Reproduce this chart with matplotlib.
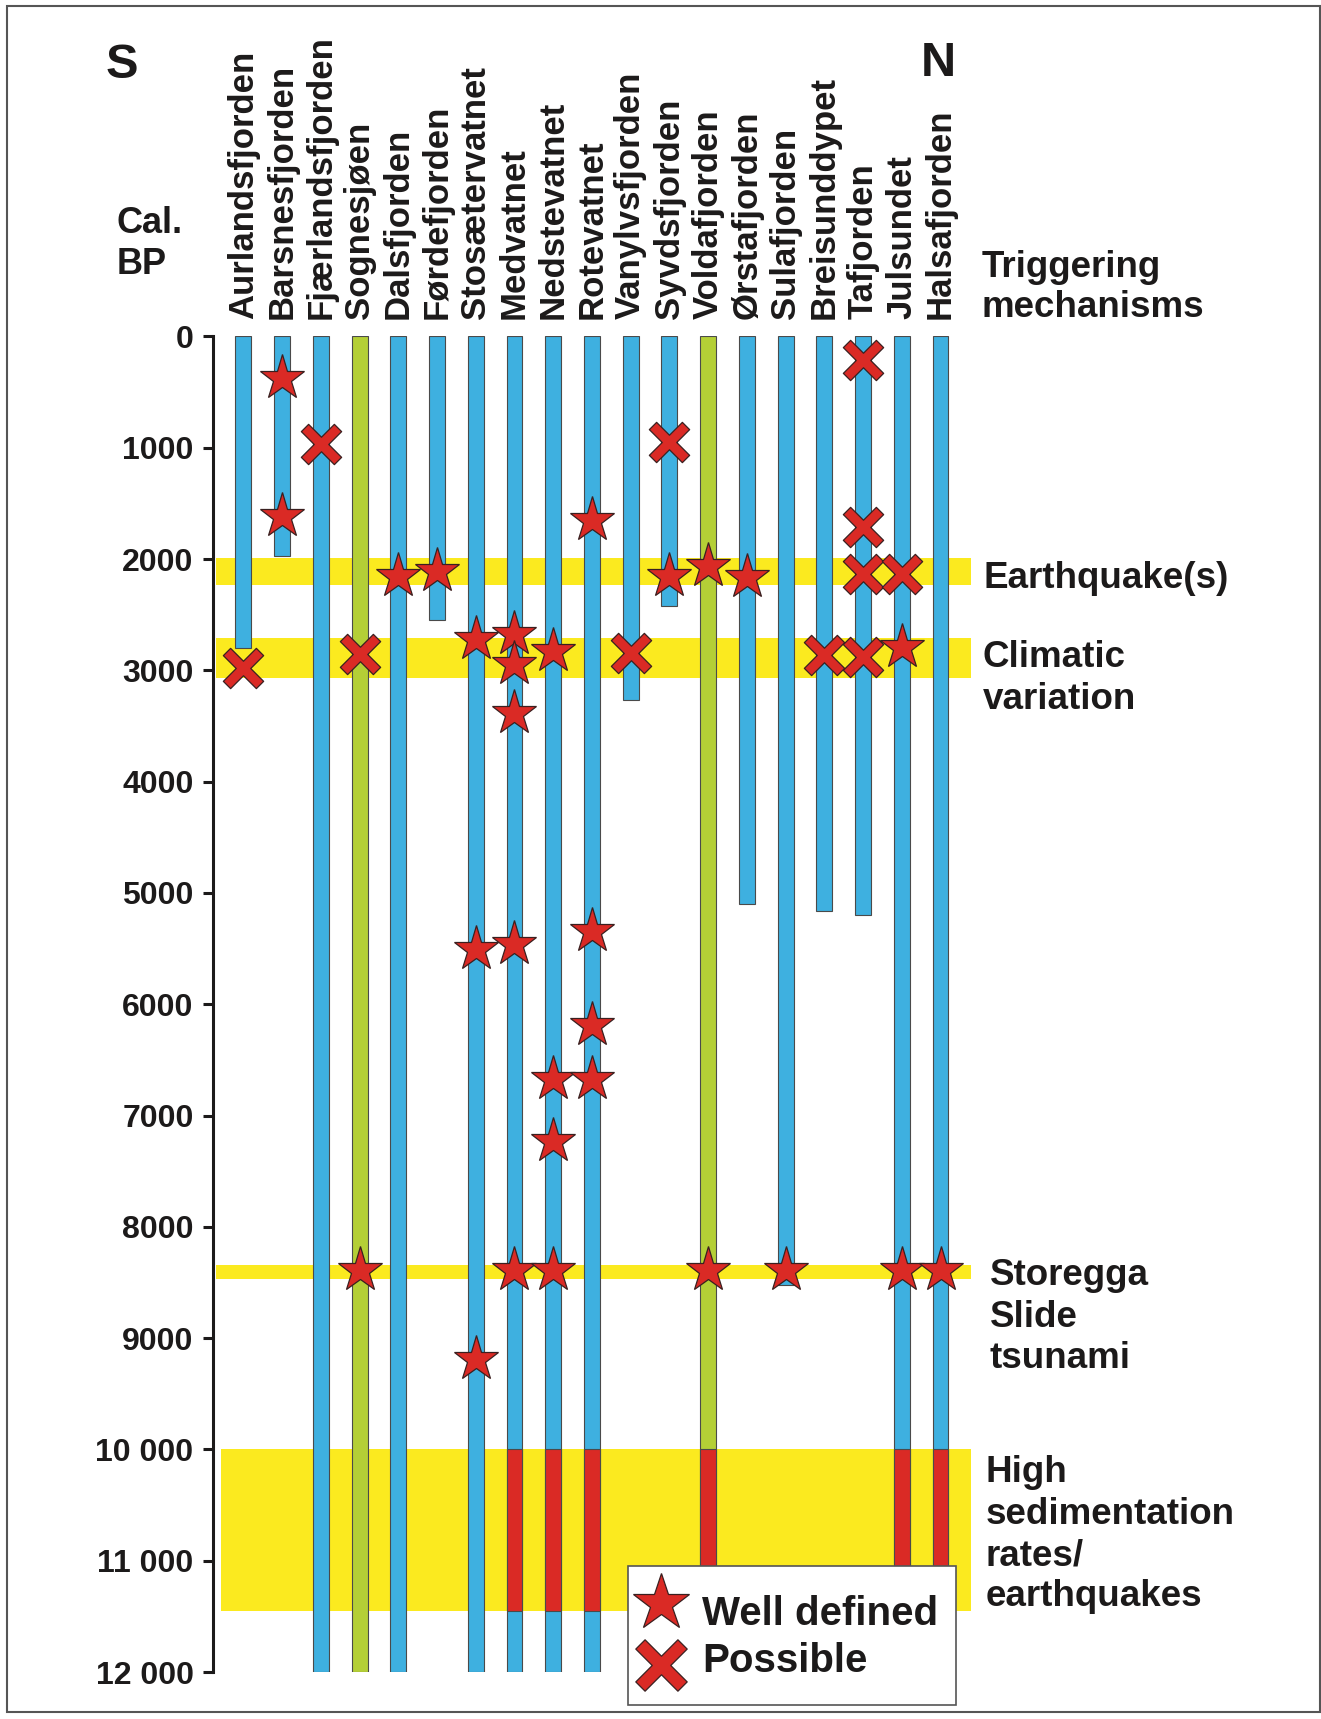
import matplotlib
matplotlib.use("Agg")
import numpy as np
import matplotlib.pyplot as plt
from matplotlib.patches import Rectangle
from matplotlib.path import Path

plt.rcParams['font.family'] = ['Liberation Sans', 'DejaVu Sans']

# sites from south to north
sites = ["Aurlandsfjorden", "Barsnesfjorden", "Fjærlandsfjorden", "Sognesjøen",
         "Dalsfjorden", "Førdefjorden", "Stosætervatnet", "Medvatnet",
         "Nedstevatnet", "Rotevatnet", "Vanylvsfjorden", "Syvdsfjorden",
         "Voldafjorden", "Ørstafjorden", "Sulafjorden", "Breisunddypet",
         "Tafjorden", "Julsundet", "Halsafjorden"]
# age (cal. BP) at the base of each record
record_end = [2800, 1970, 12000, 12000, 12000, 2550, 12000, 12000, 12000, 12000,
              3270, 2420, 12000, 5100, 8520, 5160, 5200, 12000, 12000]
green_sites = ["Sognesjøen", "Voldafjorden"]
red_sites = ["Medvatnet", "Nedstevatnet", "Rotevatnet",
             "Voldafjorden", "Julsundet", "Halsafjorden"]
red_top = 10000
red_base = 11450

# well defined events (stars)
well_site = ["Barsnesfjorden", "Barsnesfjorden", "Dalsfjorden", "Førdefjorden",
             "Stosætervatnet", "Stosætervatnet", "Stosætervatnet",
             "Medvatnet", "Medvatnet", "Medvatnet", "Medvatnet",
             "Nedstevatnet", "Nedstevatnet", "Nedstevatnet",
             "Rotevatnet", "Rotevatnet", "Rotevatnet", "Rotevatnet",
             "Syvdsfjorden", "Voldafjorden", "Ørstafjorden", "Julsundet",
             "Sognesjøen", "Medvatnet", "Nedstevatnet", "Voldafjorden",
             "Sulafjorden", "Julsundet", "Halsafjorden"]
well_age = [370, 1610, 2150, 2110,
            2720, 5500, 9190,
            2670, 2940, 3380, 5460,
            2830, 6670, 7230,
            1645, 5340, 6185, 6670,
            2150, 2060, 2165, 2790,
            8390, 8390, 8390, 8390,
            8390, 8390, 8390]

# possible events (crosses)
poss_site = ["Aurlandsfjorden", "Fjærlandsfjorden", "Sognesjøen", "Vanylvsfjorden",
             "Syvdsfjorden", "Breisunddypet", "Tafjorden", "Tafjorden",
             "Tafjorden", "Tafjorden", "Julsundet"]
poss_age = [2980, 970, 2850, 2840, 950, 2865, 210, 1715, 2130, 2880, 2130]

# triggering mechanism bands
band_top = [1990, 2705, 8340, 10000]
band_base = [2230, 3065, 8470, 11450]
band_start = [-0.70, -0.70, -0.70, -0.59]

yticks = [0, 1000, 2000, 3000, 4000, 5000, 6000, 7000, 8000, 9000, 10000, 11000, 12000]
ytick_labels = ["0", "1000", "2000", "3000", "4000", "5000", "6000", "7000",
                "8000", "9000", "10 000", "11 000", "12 000"]

blue = '#3eb0e0'
green = '#b4cf36'
yellow = '#fbea1f'
red = '#da2a25'
ink = '#1c1a1a'
edge = '#3a2020'

# slim diagonal cross marker
t = 0.22
plus = np.array([(t, t), (1, t), (1, -t), (t, -t), (t, -1), (-t, -1), (-t, -t),
                 (-1, -t), (-1, t), (-t, t), (-t, 1), (t, 1), (t, t)])
c = np.sqrt(0.5)
cross = Path(plus @ np.array([[c, c], [-c, c]]), closed=True)

W, H = 1321, 1719
fig = plt.figure(figsize=(W / 100, H / 100), dpi=100)
ax = fig.add_axes([213 / W, 1 - 1672 / H, (971.3 - 213) / W, (1672 - 336.5) / H])
ax.set_xlim(-0.785, 18.795)
ax.set_ylim(12000, 0)

pos = {s: i for i, s in enumerate(sites)}
xmax = 18.795

for b0, b1, xs in zip(band_top, band_base, band_start):
    ax.fill_between([xs, xmax], b0, b1, color=yellow, lw=0, zorder=1)

colors = [green if s in green_sites else blue for s in sites]
ax.bar(range(len(sites)), record_end, width=0.41, color=colors,
       edgecolor='#4a4a4a', linewidth=0.8, zorder=2)
ax.bar([pos[s] for s in red_sites], red_base - red_top, bottom=red_top,
       width=0.41, color=red, edgecolor='#4a4a4a', linewidth=0.8, zorder=3)

ax.plot([pos[s] for s in well_site], well_age, '*', ms=34, mfc=red,
        mec=edge, mew=0.9, ls='none', zorder=5, clip_on=False)
ax.plot([pos[s] for s in poss_site], poss_age, marker=cross, ms=29, mfc=red,
        mec=edge, mew=0.9, ls='none', zorder=5, clip_on=False)

for i, s in enumerate(sites):
    ax.text(i, -160, s, rotation=90, ha='center', va='bottom',
            fontsize=25, fontweight='bold', color=ink)

for sp in ['top', 'right', 'bottom']:
    ax.spines[sp].set_visible(False)
ax.spines['left'].set_linewidth(2.2)
ax.spines['left'].set_color(ink)
ax.set_xticks([])
ax.set_yticks(yticks, ytick_labels, fontsize=23, fontweight='bold', color=ink)
ax.tick_params(axis='y', length=7, width=2.2, pad=7, color=ink)
ax.set_facecolor('none')

# overlay in pixel coordinates for the annotations
top = fig.add_axes([0, 0, 1, 1])
top.set_xlim(0, W)
top.set_ylim(H, 0)
top.axis('off')

top.add_patch(Rectangle((7, 6), 1313, 1706, fill=False, ec='#555555', lw=1.5))

top.text(106, 78, "S", fontsize=35, fontweight='bold', color=ink, va='baseline')
top.text(921, 76, "N", fontsize=35, fontweight='bold', color=ink, va='baseline')
top.text(117, 233, "Cal.", fontsize=26, fontweight='bold', color=ink, va='baseline')
top.text(117, 274, "BP", fontsize=26, fontweight='bold', color=ink, va='baseline')

right_lines = [("Triggering", 982, 277), ("mechanisms", 982, 317),
               ("Earthquake(s)", 983, 588),
               ("Climatic", 983, 667), ("variation", 983, 709),
               ("Storegga", 990, 1285), ("Slide", 990, 1327), ("tsunami", 990, 1368),
               ("High", 986, 1482), ("sedimentation", 986, 1524),
               ("rates/", 986, 1565), ("earthquakes", 986, 1606)]
for txt, x, y in right_lines:
    top.text(x, y, txt, fontsize=26.5, fontweight='bold', color=ink, va='baseline')

# legend box
top.add_patch(Rectangle((628, 1566), 328, 139, fc='white', ec='#555555', lw=1.2, zorder=6))
top.plot([661], [1603], '*', ms=43, mfc=red, mec=edge, mew=0.9, zorder=7)
top.plot([661], [1665], marker=cross, ms=37, mfc=red, mec=edge, mew=0.9, zorder=7)
top.text(702, 1625, "Well defined", fontsize=29, fontweight='bold', color=ink,
         va='baseline', zorder=8)
top.text(702, 1672, "Possible", fontsize=29, fontweight='bold', color=ink,
         va='baseline', zorder=8)

fig.savefig('out.png', dpi=100)
